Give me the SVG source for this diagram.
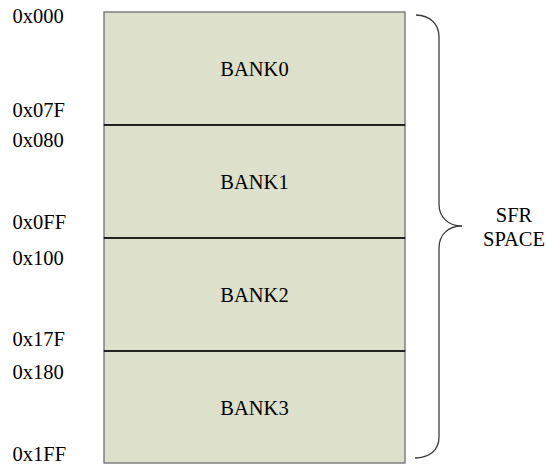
<svg xmlns="http://www.w3.org/2000/svg" width="548" height="466" viewBox="0 0 548 466">
<style>
.bank{fill:#dde0cb;stroke:#6e6e6e;stroke-width:1.3}
.div{stroke:#000;stroke-width:1.4}
.c{text-anchor:middle}
.brace{fill:none;stroke:#3c3c3c;stroke-width:1.3}
</style>
<rect width="548" height="466" fill="#fff"/>
<g font-family="'Liberation Serif', 'Times New Roman', serif" font-size="20.5" fill="#000">
<g id="bank0">
<rect class="bank" x="104" y="12" width="301" height="113"/>
<text class="c" x="254.5" y="75.5">BANK0</text>
</g>
<g id="bank1">
<rect class="bank" x="104" y="125" width="301" height="113"/>
<line class="div" x1="104" y1="125" x2="405" y2="125"/>
<text class="c" x="254.5" y="188.5">BANK1</text>
</g>
<g id="bank2">
<rect class="bank" x="104" y="238" width="301" height="113"/>
<line class="div" x1="104" y1="238" x2="405" y2="238"/>
<text class="c" x="254.5" y="301.5">BANK2</text>
</g>
<g id="bank3">
<rect class="bank" x="104" y="351" width="301" height="112"/>
<line class="div" x1="104" y1="351" x2="405" y2="351"/>
<text class="c" x="254.5" y="414.5">BANK3</text>
</g>
<g id="addresses">
<text x="12.5" y="23">0x000</text>
<text x="12.5" y="117">0x07F</text>
<text x="12.5" y="147">0x080</text>
<text x="12.5" y="229">0x0FF</text>
<text x="12.5" y="265">0x100</text>
<text x="12.5" y="345.5">0x17F</text>
<text x="12.5" y="379">0x180</text>
<text x="12.5" y="461">0x1FF</text>
</g>
<g id="sfr-space">
<path class="brace" d="M416,15 C430,15.5 439,24 439,37 V204 C439,217 448,226 462,226 C448,226 439,235 439,248 V437 C439,450 430,457.5 415,458"/>
<text class="c" x="514" y="221.5">SFR</text>
<text class="c" x="514" y="245.5">SPACE</text>
</g>
</g>
<g id="connectors"/>
</svg>
